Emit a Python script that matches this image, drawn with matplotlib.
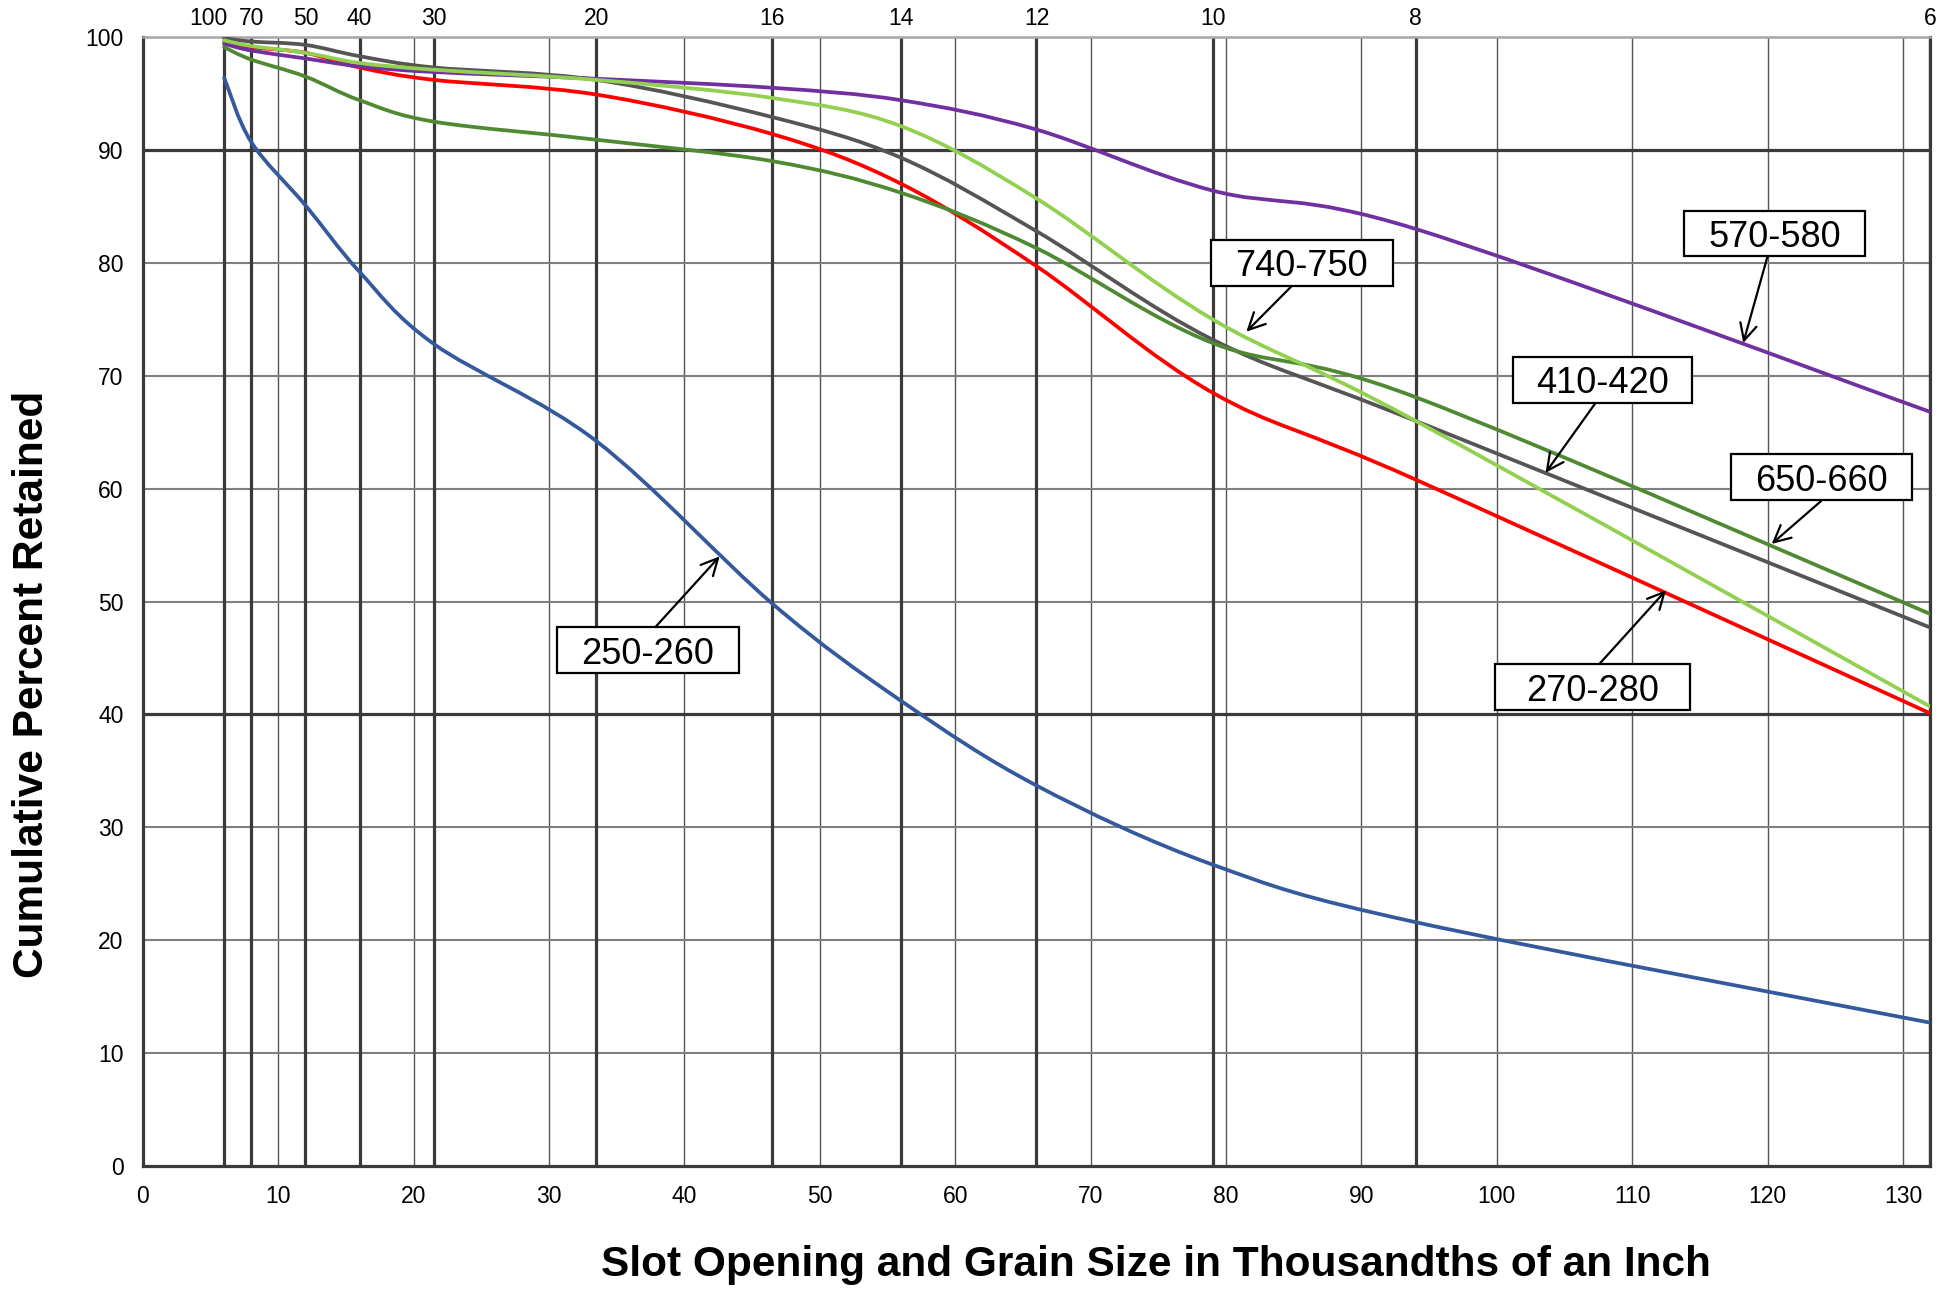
import numpy as np
import matplotlib
matplotlib.use("Agg")
import matplotlib.pyplot as plt
import matplotlib.transforms as mtransforms
from matplotlib.path import Path
from matplotlib.patches import PathPatch, Rectangle

plt.rcParams['font.family'] = ['Liberation Sans', 'DejaVu Sans']

# ---- data ----
sieve_x = [6, 8, 12, 16, 21.5, 33.5, 46.5, 56, 66, 79, 94, 132]
sieve_labels = ['100', '70', '50', '40', '30', '20', '16', '14', '12', '10', '8', '6']

s250_260 = [96.4, 90.7, 85.1, 79.2, 72.8, 64.2, 49.8, 41.2, 33.7, 26.7, 21.6, 12.7]
s270_280 = [99.6, 99.1, 98.6, 97.3, 96.2, 94.9, 91.4, 87.0, 79.7, 68.5, 60.8, 40.1]
s410_420 = [99.9, 99.6, 99.3, 98.3, 97.3, 96.2, 92.9, 89.3, 82.8, 73.2, 66.0, 47.7]
s570_580 = [99.4, 98.8, 98.1, 97.4, 96.9, 96.3, 95.5, 94.4, 91.8, 86.4, 83.0, 66.8]
s650_660 = [99.1, 98.0, 96.5, 94.4, 92.5, 90.9, 89.0, 86.2, 81.3, 72.9, 68.1, 48.9]
s740_750 = [99.7, 99.2, 98.6, 97.7, 97.1, 96.2, 94.6, 92.1, 85.7, 75.0, 66.0, 40.7]

series_names = ['250-260', '270-280', '410-420', '570-580', '650-660', '740-750']
series_vals = [s250_260, s270_280, s410_420, s570_580, s650_660, s740_750]
series_colors = ['#34599C', '#FF0000', '#555555', '#7030A0', '#4F8A33', '#92D050']

# label boxes: center (x, y), arrow tail, arrow tip (data units)
label_centers = [(37.3, 45.7), (107.1, 42.4), (107.8, 69.65), (120.5, 82.6), (124.0, 61.0), (85.6, 80.0)]
label_widths = [13.4, 14.4, 13.2, 13.4, 13.4, 13.4]
arrow_tails = [(37.9, 47.8), (107.6, 44.5), (107.3, 67.6), (120.0, 80.6), (123.95, 58.9), (84.9, 78.0)]
arrow_tips = [(42.6, 54.0), (112.5, 51.0), (103.6, 61.4), (118.2, 72.9), (120.3, 55.1), (81.5, 73.9)]


def smooth_path(x, y, t=1.0 / 6.0):
    pts = np.column_stack([x, y]).astype(float)
    n = len(pts)
    verts = [pts[0]]
    codes = [Path.MOVETO]
    for i in range(n - 1):
        p0 = pts[i - 1] if i > 0 else pts[i]
        p1 = pts[i]
        p2 = pts[i + 1]
        p3 = pts[i + 2] if i + 2 < n else pts[i + 1]
        c1 = p1 + (p2 - p0) * t
        c2 = p2 - (p3 - p1) * t
        verts += [c1, c2, p2]
        codes += [Path.CURVE4] * 3
    return Path(verts, codes)


fig = plt.figure(figsize=(19.39, 12.89), dpi=100)
ax = fig.add_axes([0.0737, 0.0954, 0.9217, 0.8759])
ax.set_xlim(0, 132)
ax.set_ylim(0, 100)

# grid
heavy_c = '#3A3A3A'
for xv in range(0, 131, 10):
    ax.axvline(xv, color='#555555', lw=1.0, zorder=1)
for yv in range(10, 101, 10):
    if yv in (40, 90):
        ax.axhline(yv, color=heavy_c, lw=2.3, zorder=1.2)
    else:
        ax.axhline(yv, color='#7F7F7F', lw=1.5, zorder=1.1)
for xv in sieve_x:
    ax.axvline(xv, color=heavy_c, lw=2.3, zorder=1.3)

for spine in ['left', 'bottom', 'right']:
    ax.spines[spine].set_color(heavy_c)
    ax.spines[spine].set_linewidth(2.3)
ax.spines['top'].set_color('#A6A6A6')
ax.spines['top'].set_linewidth(1.8)

# curves
for vals, col in zip(series_vals, series_colors):
    path = smooth_path(sieve_x, vals)
    ax.add_patch(PathPatch(path, facecolor='none', edgecolor=col, lw=2.7,
                           capstyle='round', joinstyle='round', zorder=3))

# labels and arrows
box_h = 4.05
for name, c, bw, tail, tip in zip(series_names, label_centers, label_widths, arrow_tails, arrow_tips):
    ax.annotate('', xy=tip, xytext=tail,
                arrowprops=dict(arrowstyle='->', color='black', lw=1.6,
                                shrinkA=0, shrinkB=0, mutation_scale=30),
                zorder=5)
    ax.add_patch(Rectangle((c[0] - bw / 2, c[1] - box_h / 2), bw, box_h,
                           facecolor='white', edgecolor='black', lw=1.6, zorder=6))
    ax.text(c[0], c[1], name, ha='center', va='center_baseline', fontsize=26, zorder=7)

ax.set_xticks(range(0, 131, 10))
ax.set_yticks(range(0, 101, 10))
ax.tick_params(axis='both', length=0, labelsize=16.5, colors='black')
ax.tick_params(axis='x', pad=14)
ax.tick_params(axis='y', pad=14)

# top sieve-number labels
trans_top = mtransforms.blended_transform_factory(ax.transData, ax.transAxes)
for i, (xv, lab) in enumerate(zip(sieve_x, sieve_labels)):
    tr = trans_top
    if i == 0:
        tr = trans_top + mtransforms.ScaledTranslation(-0.155, 0, fig.dpi_scale_trans)
    ax.text(xv, 1.0, lab, transform=tr, ha='center', va='bottom', fontsize=16.5,
            clip_on=False)
# shift via offset for text baseline spacing
for t in ax.texts[-len(sieve_labels):]:
    t.set_transform(t.get_transform() + mtransforms.ScaledTranslation(0, 0.07, fig.dpi_scale_trans))

fig.text(0.596, 0.019, 'Slot Opening and Grain Size in Thousandths of an Inch',
         ha='center', va='center', fontsize=30.5, fontweight='bold')
fig.text(0.0166, 0.469, 'Cumulative Percent Retained', ha='center', va='center',
         rotation=90, fontsize=30.5, fontweight='bold')

fig.savefig('out.png', dpi=100)
